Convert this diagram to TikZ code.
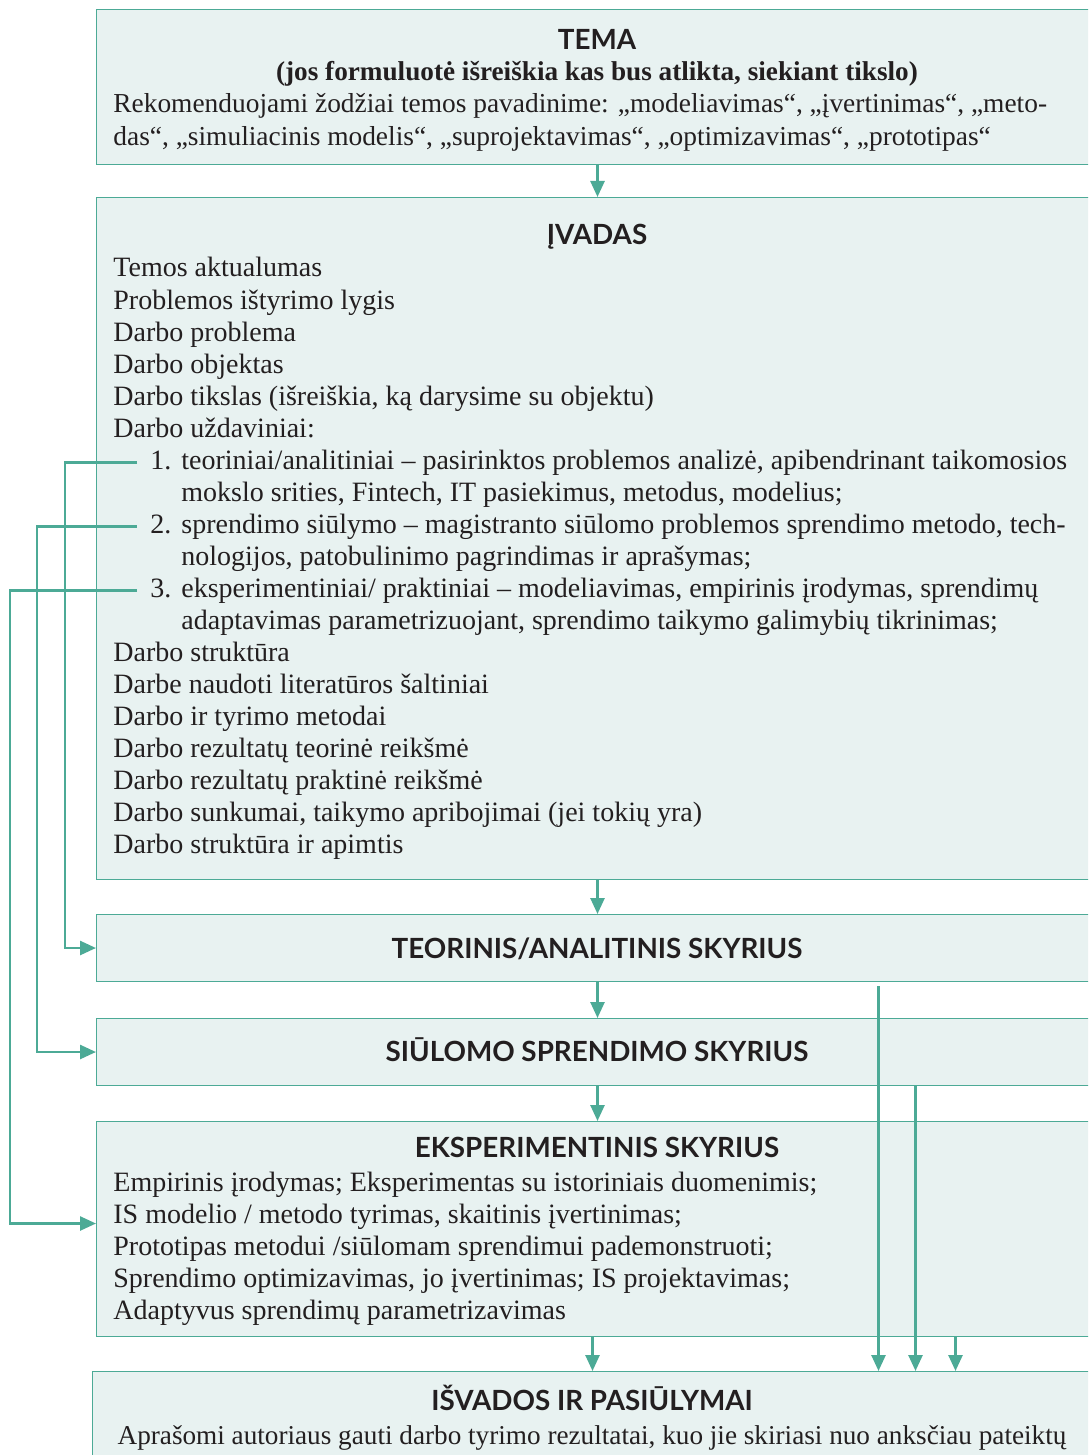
\documentclass[tikz,border=0pt]{standalone}
\usepackage{fontspec}
\setmainfont{Liberation Serif}
\newfontfamily\headfont{Lato}
\usetikzlibrary{arrows.meta}
\definecolor{tealline}{RGB}{76,170,150}
\definecolor{tealfill}{RGB}{232,242,241}
\definecolor{inkdark}{RGB}{35,31,32}
\newcommand{\itemno}[1]{\makebox[15.5pt][l]{#1}}

\begin{document}
\begin{tikzpicture}[x=0.5pt, y=-0.5pt, every node/.style={inner sep=0pt, text=inkdark, font=\fontsize{14}{16}\selectfont}, >={Triangle[length=8pt, width=7pt]}]
	\tikzset{
		box/.style={draw=tealline, line width=0.5pt, fill=tealfill, anchor=north west, minimum width=501pt},
		head/.style={font=\headfont\bfseries\fontsize{13.9}{16}\selectfont, anchor=base},
		txt/.style={anchor=base west},
		link/.style={draw=tealline, line width=1.3pt}
	}
	\useasboundingbox (0,0) rectangle (1088,1455);
	\clip (0,0) rectangle (1088,1455);

	\node[box, minimum height=77.5pt] (tema) at (96,9) {};
	\node[box, minimum height=341pt] (ivadas) at (96,197) {};
	\node[box, minimum height=33.5pt] (teor) at (96,914) {};
	\node[box, minimum height=33.5pt] (siul) at (96,1018) {};
	\node[box, minimum height=107.5pt] (eksp) at (96,1121) {};
	\node[box, minimum height=50pt, minimum width=500pt] (isv) at (92,1371) {};

	\node[head] (temah) at (597,50) {TEMA};
	\node[anchor=base, font=\bfseries\fontsize{13.6}{16}\selectfont] (temasub) at (597,81) {(jos formuluotė išreiškia kas bus atlikta, siekiant tikslo)};
	\node[txt, font=\fontsize{13.7}{16}\selectfont] (tema1) at (113,113) {Rekomenduojami žodžiai temos pavadinime: „modeliavimas“, „įvertinimas“, „meto-};
	\node[txt, font=\fontsize{13.7}{16}\selectfont] (tema2) at (113,146) {das“, „simuliacinis modelis“, „suprojektavimas“, „optimizavimas“, „prototipas“};

	\node[head] (ivh) at (597,244) {ĮVADAS};
	\foreach \dx/\t [count=\i from 0] in {0/Temos aktualumas, 0/Problemos ištyrimo lygis, 0/Darbo problema, 0/Darbo objektas, 0/{Darbo tikslas (išreiškia, ką darysime su objektu)}, 0/Darbo uždaviniai:, 37/{\itemno{1.}teoriniai/analitiniai – pasirinktos problemos analizė, apibendrinant taikomosios}, 68/{mokslo srities, Fintech, IT pasiekimus, metodus, modelius;}, 37/{\itemno{2.}sprendimo siūlymo – magistranto siūlomo problemos sprendimo metodo, tech-}, 68/{nologijos, patobulinimo pagrindimas ir aprašymas;}, 37/{\itemno{3.}eksperimentiniai/ praktiniai – modeliavimas, empirinis įrodymas, sprendimų}, 68/{adaptavimas parametrizuojant, sprendimo taikymo galimybių tikrinimas;}, 0/Darbo struktūra, 0/Darbe naudoti literatūros šaltiniai, 0/Darbo ir tyrimo metodai, 0/Darbo rezultatų teorinė reikšmė, 0/Darbo rezultatų praktinė reikšmė, 0/{Darbo sunkumai, taikymo apribojimai (jei tokių yra)}, 0/Darbo struktūra ir apimtis}
		\node[txt] (iv\i) at (113+\dx, 277+32*\i) {\t};

	\node[head] (teorh) at (597,958) {TEORINIS/ANALITINIS SKYRIUS};
	\node[head] (siulh) at (597,1061) {SIŪLOMO SPRENDIMO SKYRIUS};
	\node[head] (ekph) at (597,1157) {EKSPERIMENTINIS SKYRIUS};
	\foreach \t [count=\i from 0] in {Empirinis įrodymas; Eksperimentas su istoriniais duomenimis;, {IS modelio / metodo tyrimas, skaitinis įvertinimas;}, Prototipas metodui /siūlomam sprendimui pademonstruoti;, {Sprendimo optimizavimas, jo įvertinimas; IS projektavimas;}, Adaptyvus sprendimų parametrizavimas}
		\node[txt] (ek\i) at (113, 1191+32*\i) {\t};

	\node[head] (isvh) at (592,1410) {IŠVADOS IR PASIŪLYMAI};
	\node[anchor=base, font=\fontsize{13.6}{16}\selectfont] (isv1) at (592,1444) {Aprašomi autoriaus gauti darbo tyrimo rezultatai, kuo jie skiriasi nuo anksčiau pateiktų};

	\draw[link,->] (tema.south) -- (ivadas.north);
	\draw[link,->] (ivadas.south) -- (teor.north);
	\draw[link,->] (teor.south) -- (siul.north);
	\draw[link,->] (siul.south) -- (eksp.north);
	\draw[link,->] (eksp.south -| isv.north) -- (isv.north);

	\draw[link,->] ([xshift=-6.5pt]iv6.west) -- ++(-72,0) |- (teor.west);
	\draw[link,->] ([xshift=-6.5pt]iv8.west) -- ++(-100,0) |- (siul.west);
	\draw[link,->] ([xshift=-6.5pt]iv10.west) -- ++(-127,0) |- ([yshift=2.75pt]eksp.west);

	\coordinate (r1) at ([xshift=140.5pt, yshift=-2pt]teor.south);
	\coordinate (r2) at ([xshift=159pt]siul.south);
	\coordinate (r3) at ([xshift=179pt]eksp.south);
	\foreach \r in {r1,r2,r3}
		\draw[link,->] (\r) -- (\r |- isv.north);
\end{tikzpicture}
\end{document}
